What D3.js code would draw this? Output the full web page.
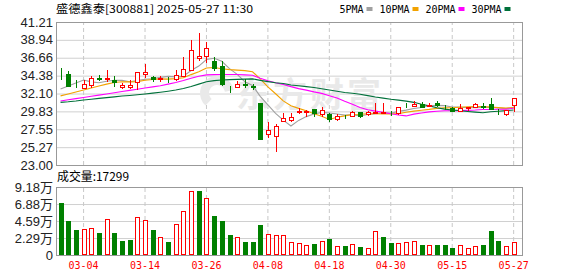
<!DOCTYPE html>
<html lang="zh-CN">
<head>
<meta charset="UTF-8">
<title>盛德鑫泰 日K</title>
<style>
  body { margin: 0; background: #fff; }
  svg { display: block; }
  .ylab text { font-family: "Liberation Sans", "Noto Sans CJK SC", sans-serif; font-size: 13px; fill: #222; }
  .xlab text { font-family: "DejaVu Sans Mono", monospace; font-size: 10px; fill: #f00; }
  .grid line { stroke: #d0d0d0; }
  .vgrid line { stroke: #c8c8c8; stroke-dasharray: 4,3; }
  .legend text { font-family: "DejaVu Sans Mono", monospace; font-size: 10px; fill: #000; }
</style>
<script src="https://cdn.jsdelivr.net/npm/d3@7"></script>
</head>
<body>
<div id="chart"></div>
<script>
// ---- data ----
var dates = ["02-27","02-28","03-03","03-04","03-05","03-06","03-07","03-10","03-11","03-12",
  "03-13","03-14","03-17","03-18","03-19","03-20","03-21","03-24","03-25","03-26",
  "03-27","03-28","03-31","04-01","04-02","04-03","04-07","04-08","04-09","04-10",
  "04-11","04-14","04-15","04-16","04-17","04-18","04-21","04-22","04-23","04-24",
  "04-25","04-28","04-29","04-30","05-06","05-07","05-08","05-09","05-12","05-13",
  "05-14","05-15","05-16","05-19","05-20","05-21","05-22","05-23","05-26","05-27"];

var open = [34.62,34.59,33.05,32.77,33.19,34.14,33.97,33.82,32.97,32.97,
  33.61,34.55,34.25,34.00,33.85,33.90,34.38,35.10,36.60,36.92,
  36.24,35.65,32.98,32.97,33.35,33.00,30.93,26.95,26.73,28.64,
  28.73,29.71,29.80,30.09,29.49,29.46,28.90,29.17,29.28,29.71,
  29.49,29.60,29.60,29.62,29.58,30.55,30.50,30.83,30.50,30.93,
  30.37,30.22,29.87,30.20,30.43,30.55,30.73,29.75,29.46,30.64];
var high = [35.39,34.97,33.82,33.82,34.33,34.46,35.10,34.37,33.40,33.82,
  34.85,35.82,34.33,34.33,34.25,35.10,36.71,38.92,39.85,38.70,
  36.79,36.24,33.00,33.74,33.95,33.28,30.93,28.52,28.20,29.57,
  29.57,30.22,30.00,30.10,30.35,29.66,29.46,29.37,29.85,29.75,
  29.87,30.86,30.86,29.87,30.43,30.86,31.15,31.06,30.86,31.15,
  30.60,30.43,30.80,30.35,30.86,30.86,31.50,30.09,30.00,31.50];
var low = [33.82,33.00,32.77,32.70,32.85,33.70,33.60,32.97,32.68,32.68,
  32.55,34.04,33.61,33.61,33.40,33.70,34.17,35.00,36.24,35.95,
  35.01,33.06,32.13,32.77,32.85,32.55,26.32,26.40,24.62,28.52,
  28.52,29.46,29.15,29.07,29.07,28.52,28.64,28.82,29.20,28.95,
  29.23,29.46,29.55,29.23,29.37,30.22,30.43,30.22,30.43,30.43,
  30.00,29.80,29.85,29.85,30.35,30.09,30.10,29.37,29.23,29.79];
var close = [34.55,33.06,33.00,33.28,34.04,33.95,34.10,33.60,33.19,33.15,
  34.80,34.85,33.95,34.05,33.80,34.46,35.23,37.64,36.88,37.94,
  35.31,33.28,32.92,33.31,33.25,32.90,26.32,27.46,27.97,28.95,
  29.15,29.87,29.88,29.58,30.00,28.82,29.23,29.13,29.79,29.28,
  29.71,29.74,29.70,29.58,30.43,30.50,30.76,30.35,30.70,30.64,
  30.33,29.87,30.30,30.33,30.73,30.35,30.13,29.70,30.00,31.50];
var prevClose = 35.21; // close of the day before 02-27

// volume in 万 (10k)
var volume = [6.98,4.59,3.38,3.51,3.65,2.97,4.82,2.97,1.89,2.03,
  5.09,4.68,3.38,2.43,1.76,4.14,5.90,8.60,8.68,7.65,
  5.27,4.59,2.70,2.39,1.76,1.76,4.05,2.79,2.66,2.66,
  1.71,1.58,1.31,1.44,1.85,2.16,1.17,1.21,1.44,1.08,
  0.90,3.20,2.47,1.66,1.58,1.71,1.85,1.35,1.35,1.35,
  1.35,0.95,1.35,0.90,1.21,1.35,3.24,1.89,1.21,1.73];

var ma5 = [32.68,33.06,33.44,33.82,33.59,33.47,33.67,33.79,33.78,33.60,
  33.77,33.92,33.99,34.16,34.29,34.22,34.30,35.04,35.60,36.43,
  36.60,36.21,35.27,34.55,33.61,33.13,31.74,30.65,29.58,28.72,
  27.97,28.68,29.16,29.49,29.70,29.63,29.50,29.35,29.39,29.25,
  29.43,29.53,29.64,29.60,29.83,29.99,30.19,30.32,30.55,30.59,
  30.56,30.38,30.37,30.29,30.31,30.32,30.37,30.25,30.18,30.34];
var ma10 = [31.80,32.05,32.30,32.55,32.80,33.05,33.30,33.50,33.60,33.59,
  33.62,33.80,33.89,33.97,33.94,34.00,34.11,34.51,34.88,35.36,
  35.41,35.25,35.15,35.08,35.02,34.87,33.98,32.96,32.07,31.17,
  30.55,30.21,29.91,29.53,29.21,28.80,29.09,29.26,29.44,29.47,
  29.53,29.52,29.50,29.50,29.54,29.71,29.86,29.98,30.08,30.21,
  30.27,30.29,30.35,30.42,30.45,30.44,30.37,30.31,30.24,30.32];
var ma20 = [31.15,31.30,31.45,31.60,31.75,31.90,32.05,32.20,32.35,32.50,
  32.65,32.80,32.95,33.10,33.30,33.50,33.75,34.05,34.30,34.48,
  34.51,34.53,34.52,34.52,34.48,34.43,34.04,33.73,33.47,33.26,
  32.98,32.73,32.53,32.31,32.12,31.83,31.53,31.11,30.75,30.32,
  30.04,29.86,29.70,29.52,29.37,29.25,29.48,29.62,29.76,29.84,
  29.90,29.90,29.92,29.96,30.00,30.07,30.07,30.09,30.10,30.22];
var ma30 = [30.98,31.05,31.15,31.28,31.38,31.48,31.58,31.68,31.78,31.86,
  31.95,32.04,32.15,32.27,32.40,32.55,32.75,33.00,33.30,33.60,
  33.75,33.82,33.87,33.90,33.93,33.97,33.78,33.62,33.48,33.37,
  33.19,33.09,32.98,32.86,32.72,32.55,32.39,32.24,32.13,32.00,
  31.83,31.66,31.52,31.37,31.26,31.13,30.98,30.73,30.53,30.28,
  30.12,30.00,29.92,29.82,29.73,29.65,29.78,29.85,29.92,30.00];

var priceTicks = ["41.21","38.94","36.66","34.38","32.10","29.83","27.55","25.27","23.00"];
var volTicks = [0, 2.29, 4.59, 6.88, 9.18];
var volTickLabels = ["0","2.29万","4.59万","6.88万","9.18万"];
var dateTicks = ["03-04","03-14","03-26","04-08","04-18","04-30","05-15","05-27"];

var maNames = ["5PMA","10PMA","20PMA","30PMA"];
var maColors = ["#a0a0a0","#f2a200","#ff00ff","#00703a"];

// ---- layout ----
var W = 578, H = 276;
var left = 56, right = 522;
var kTop = 22, kBot = 165, vTop = 187, vBot = 255;
var UP = "#ff0000", DOWN = "#008000";

var svg = d3.select("#chart").append("svg")
    .attr("width", W)
    .attr("height", H);

var x = d3.scaleBand().domain(dates).range([56.7, 517.5]);
var cx = function(i) { return x(dates[i]) + x.bandwidth() / 2; };
var y = d3.scaleLinear().domain([23, 41.21]).range([kBot, kTop]);
var yv = d3.scaleLinear().domain([0, 9.18]).range([vBot, vTop]);

// title + legend
svg.append("text")
    .attr("x", 56).attr("y", 13)
    .attr("font-family", "Noto Sans CJK SC, sans-serif")
    .attr("font-size", "11px")
    .attr("textLength", 197)
    .attr("lengthAdjust", "spacingAndGlyphs")
    .text("盛德鑫泰[300881] 2025-05-27 11:30");

var legend = svg.append("g").attr("class", "legend");
var lx = 339.5;
maNames.forEach(function(n, i) {
  var tw = n.length * 6;
  legend.append("text").attr("x", lx).attr("y", 12.5).text(n);
  legend.append("rect")
      .attr("x", lx + tw + 3).attr("y", 7)
      .attr("width", 6).attr("height", 4)
      .attr("fill", maColors[i]);
  lx += tw + 16;
});

// ---- price panel ----
svg.append("g")
    .attr("class", "grid ylab")
    .attr("transform", "translate(" + left + ",0)")
    .call(d3.axisLeft(y).tickValues(priceTicks.map(Number))
        .tickSize(-(right - left)).tickPadding(3)
        .tickFormat(function(d) { return d.toFixed(2); }))
    .call(function(g) { g.select(".domain").remove(); });

svg.append("g")
    .attr("class", "vgrid")
    .attr("transform", "translate(0," + kBot + ")")
    .call(d3.axisBottom(x).tickValues(dateTicks).tickSize(-(kBot - kTop)).tickFormat(""))
    .call(function(g) { g.select(".domain").remove(); });

// watermark
var wm = svg.append("g").attr("fill", "#e9e9e9");
wm.append("path")
    .attr("transform", "translate(217,93)")
    .attr("d", d3.arc().innerRadius(8).outerRadius(17).startAngle(-2.4).endAngle(1.4)());
wm.append("text")
    .attr("x", 236).attr("y", 107)
    .attr("font-family", "Noto Sans CJK SC, sans-serif")
    .attr("font-size", "34px")
    .attr("font-weight", "bold")
    .attr("textLength", 145)
    .text("东方财富");

// MA lines
var line = d3.line()
    .x(function(d, i) { return cx(i); })
    .y(function(d) { return y(d); });
[ma5, ma10, ma20, ma30].forEach(function(s, i) {
  svg.append("path")
      .attr("d", line(s))
      .attr("fill", "none")
      .attr("stroke", maColors[i])
      .attr("stroke-width", 1.1);
});

// candles
var candles = svg.append("g").attr("shape-rendering", "crispEdges");
d3.range(dates.length).forEach(function(i) {
  var up = close[i] > open[i] || (close[i] === open[i] && close[i] >= (i ? close[i - 1] : prevClose));
  var col = up ? UP : DOWN;
  var c = Math.round(cx(i));
  candles.append("line")
      .attr("x1", c + 0.5).attr("x2", c + 0.5)
      .attr("y1", y(high[i])).attr("y2", y(low[i]))
      .attr("stroke", col);
  var top = Math.round(y(Math.max(open[i], close[i])));
  var h = Math.max(0, Math.round(y(Math.min(open[i], close[i]))) - top);
  candles.append("rect")
      .attr("x", c - 2 + 0.5).attr("y", top + 0.5)
      .attr("width", 4).attr("height", h)
      .attr("fill", up ? "#fff" : col)
      .attr("stroke", col);
});

svg.append("rect")
    .attr("x", left + 0.5).attr("y", kTop + 0.5)
    .attr("width", right - left).attr("height", kBot - kTop)
    .attr("fill", "none").attr("stroke", "#999");

// ---- volume panel ----
svg.append("text")
    .attr("x", 57).attr("y", 181)
    .attr("font-family", "Noto Sans CJK SC, sans-serif")
    .attr("font-size", "12px")
    .attr("textLength", 72)
    .attr("lengthAdjust", "spacingAndGlyphs")
    .text("成交量:17299");

svg.append("g")
    .attr("class", "grid ylab")
    .attr("transform", "translate(" + left + ",0)")
    .call(d3.axisLeft(yv).tickValues(volTicks)
        .tickSize(-(right - left)).tickPadding(3)
        .tickFormat(function(d, i) { return volTickLabels[i]; }))
    .call(function(g) { g.select(".domain").remove(); });

svg.append("g")
    .attr("class", "vgrid xlab")
    .attr("transform", "translate(0," + vBot + ")")
    .call(d3.axisBottom(x).tickValues(dateTicks).tickSize(-(vBot - vTop)).tickPadding(7))
    .call(function(g) { g.select(".domain").remove(); });

var bars = svg.append("g").attr("shape-rendering", "crispEdges");
volume.forEach(function(v, i) {
  var up = close[i] >= (i ? close[i - 1] : prevClose);
  var col = up ? UP : DOWN;
  var c = Math.round(cx(i));
  var top = Math.round(yv(v));
  bars.append("rect")
      .attr("x", c - 2 + 0.5).attr("y", top + 0.5)
      .attr("width", 4).attr("height", vBot - top - 1)
      .attr("fill", up ? "#fff" : col)
      .attr("stroke", col);
});

svg.append("rect")
    .attr("x", left + 0.5).attr("y", vTop + 0.5)
    .attr("width", right - left).attr("height", vBot - vTop)
    .attr("fill", "none").attr("stroke", "#999");
</script>
</body>
</html>
